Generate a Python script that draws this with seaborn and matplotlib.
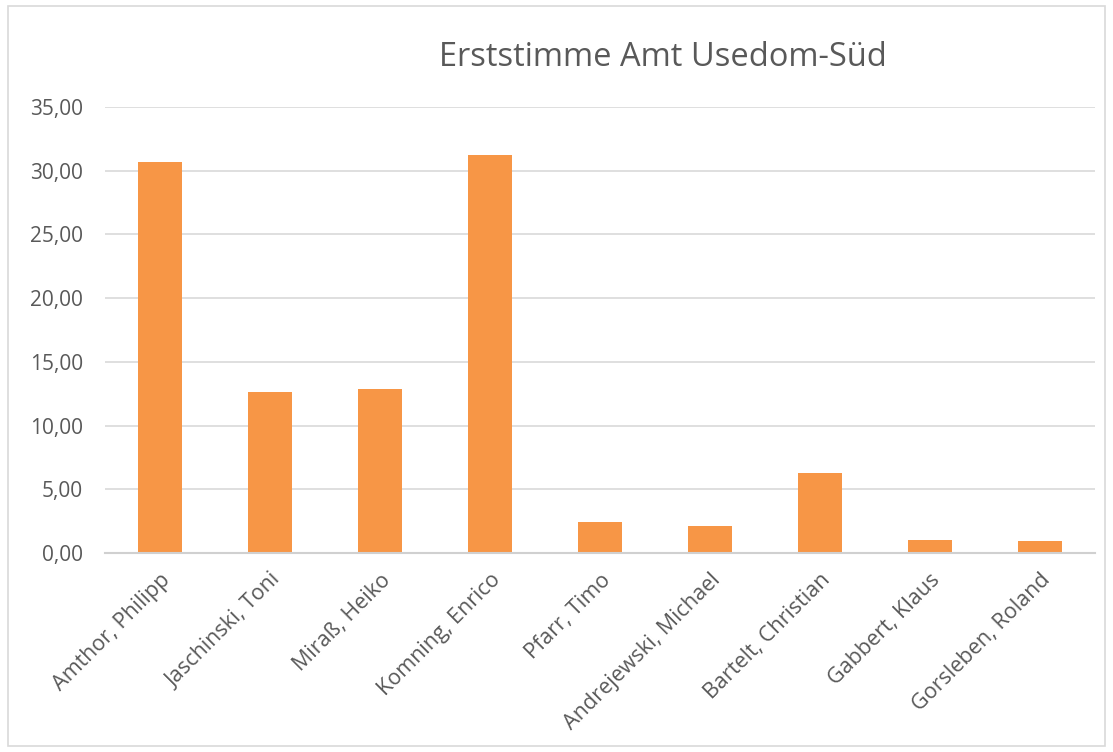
import matplotlib
matplotlib.use("Agg")
import matplotlib.pyplot as plt
import seaborn as sns
import pandas as pd
from matplotlib.patches import Rectangle

# Daten: Erststimme in Prozent
kandidaten = ['Amthor, Philipp', 'Jaschinski, Toni', 'Miraß, Heiko', 'Komning, Enrico',
              'Pfarr, Timo', 'Andrejewski, Michael', 'Bartelt, Christian',
              'Gabbert, Klaus', 'Gorsleben, Roland']
anteil = [30.65, 12.62, 12.85, 31.20, 2.45, 2.10, 6.28, 1.02, 0.95]
y_ticks = [0, 5, 10, 15, 20, 25, 30, 35]

df = pd.DataFrame({'Kandidat': kandidaten, 'Anteil': anteil})

sns.set_theme(style="white")
plt.rcParams['font.family'] = ['Open Sans', 'DejaVu Sans']

fig = plt.figure(figsize=(11.13, 7.52), dpi=100)
ax = fig.add_axes([0.0943, 0.2646, 0.8895, 0.5931])

sns.barplot(data=df, x='Kandidat', y='Anteil', color='#F79646', saturation=1,
            width=0.4, edgecolor='none', ax=ax)

ax.set_ylim(0, 35)
ax.set_yticks(y_ticks)
ax.set_yticklabels([f"{v:.2f}".replace('.', ',') for v in y_ticks], fontsize=15, color='#595959')
ax.set_xlim(-0.5, len(kandidaten) - 0.5)
ax.set_xticks(range(len(kandidaten)))
ax.set_xticklabels(kandidaten, rotation=45, ha='right', rotation_mode='anchor',
                   fontsize=15.5, color='#595959')
ax.tick_params(axis='both', length=0)
ax.tick_params(axis='x', pad=12)
ax.tick_params(axis='y', pad=16)
ax.yaxis.grid(True, color='#d9d9d9', linewidth=1.2)
ax.set_axisbelow(True)
for s in ['left', 'right', 'top']:
    ax.spines[s].set_visible(False)
ax.spines['bottom'].set_color('#d0d0d0')
ax.spines['bottom'].set_linewidth(1.5)
ax.set_xlabel('')
ax.set_ylabel('')

fig.text(0.596, 0.924, 'Erststimme Amt Usedom-Süd', ha='center', va='center',
         fontsize=23.5, color='#595959')

# Rahmen um das Diagramm
fig.patches.append(Rectangle((0.007, 0.008), 0.986, 0.984, transform=fig.transFigure,
                             fill=False, edgecolor='#d9d9d9', linewidth=1.2))

fig.savefig('out.png', dpi=100, facecolor='white')
